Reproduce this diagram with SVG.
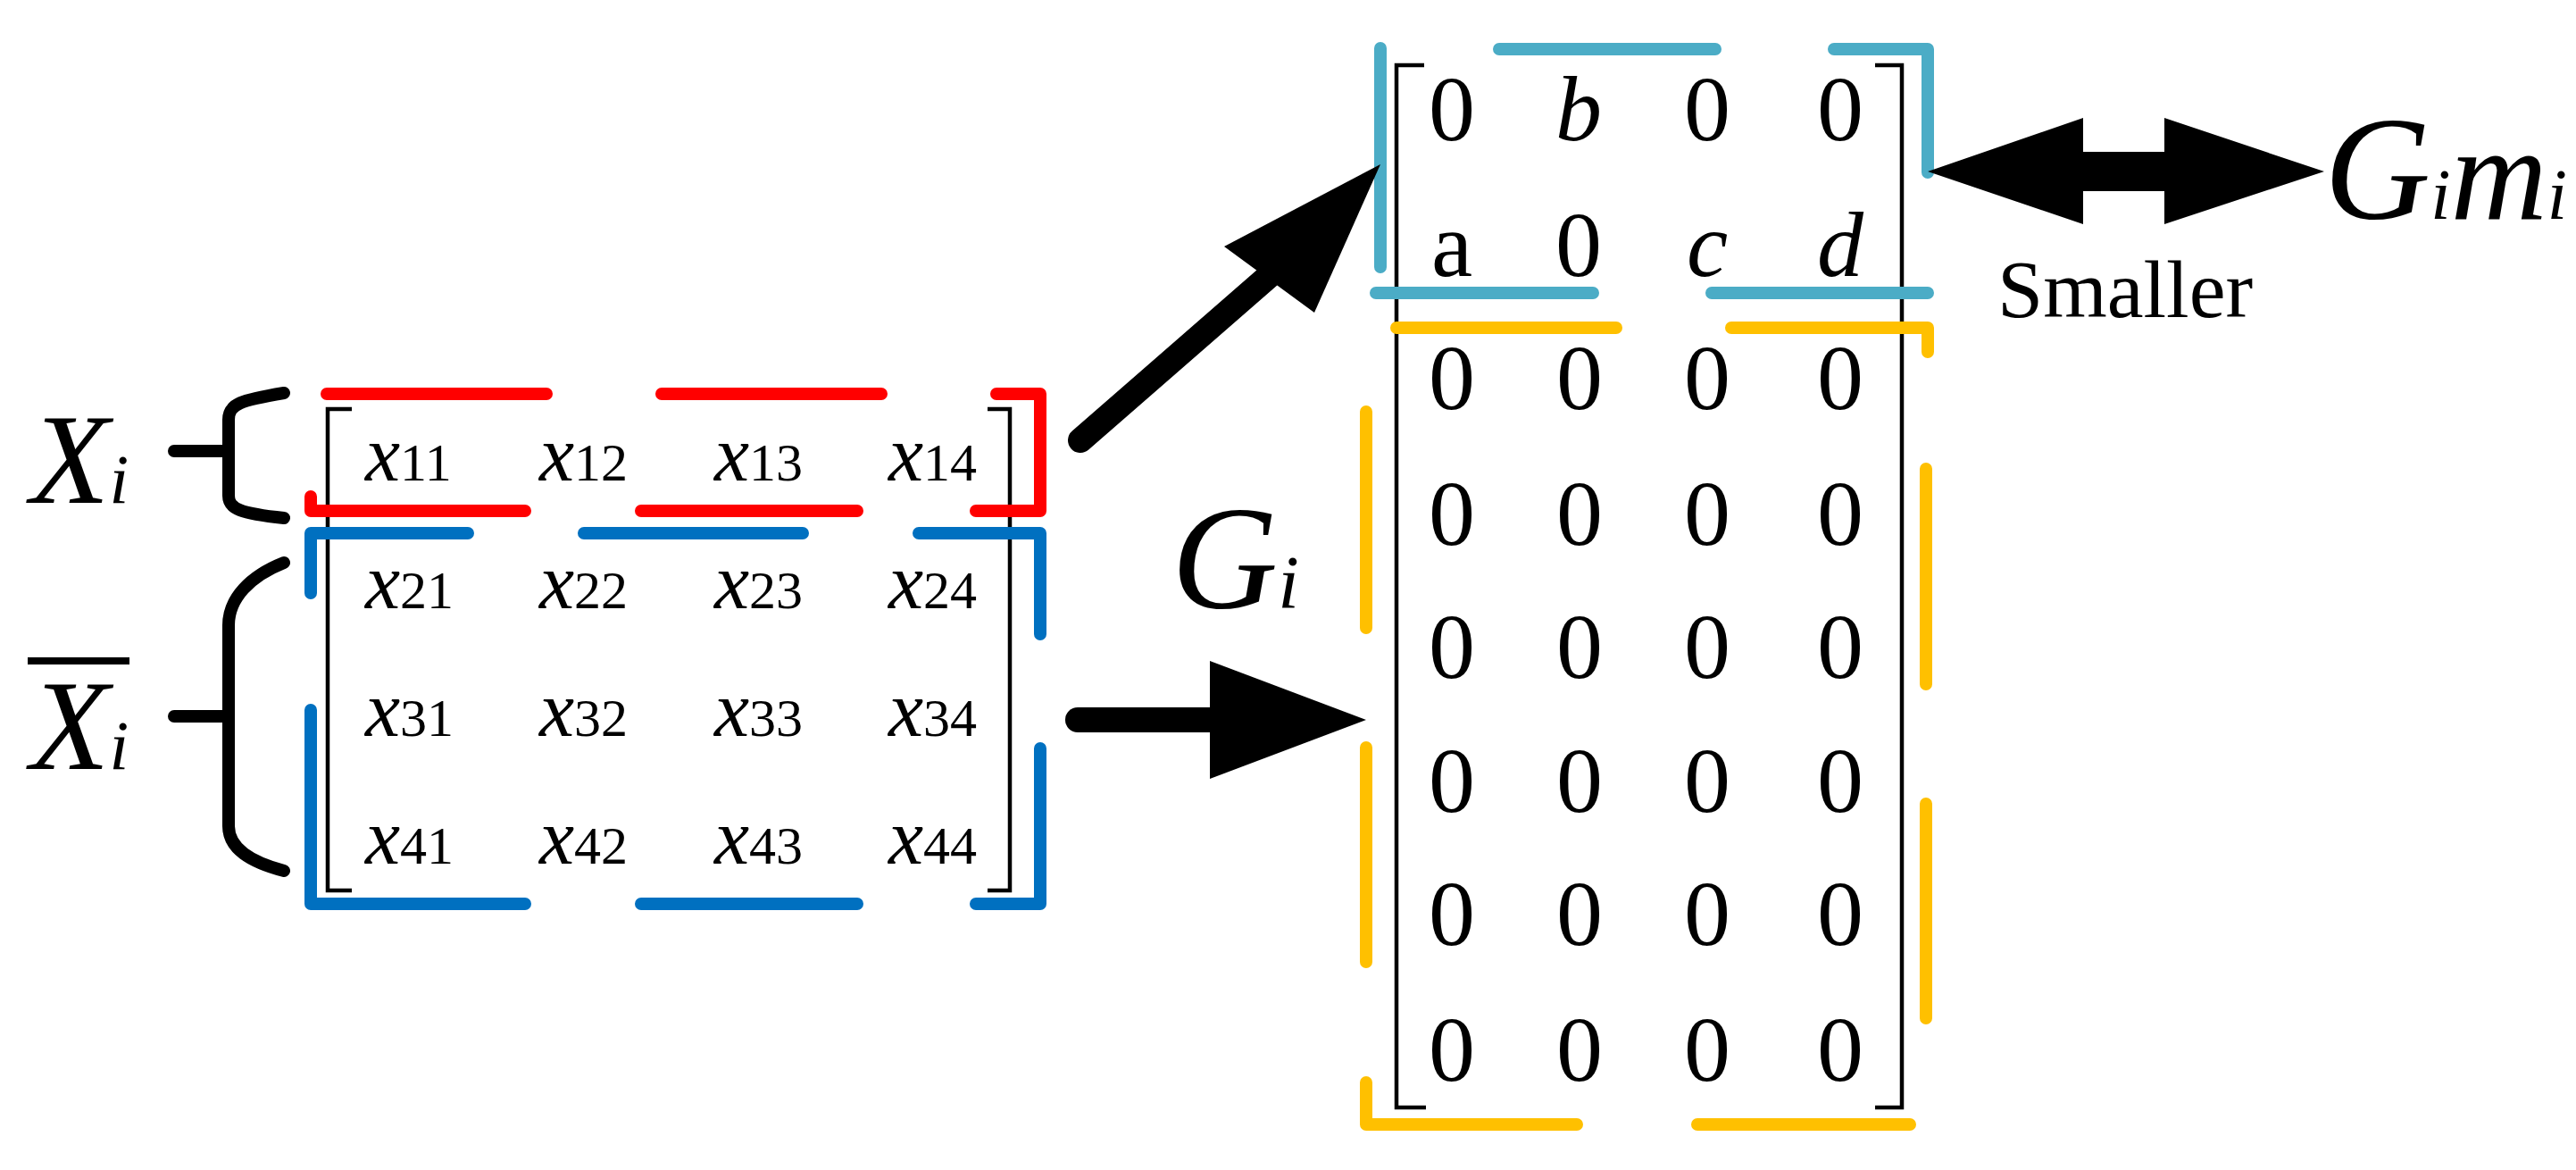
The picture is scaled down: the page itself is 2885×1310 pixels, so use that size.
<svg xmlns="http://www.w3.org/2000/svg" width="2885" height="1310" viewBox="0 0 2885 1310" font-family="'Liberation Serif', 'DejaVu Serif', serif">
<style>
.d{fill:none;stroke-width:14;stroke-linecap:round;stroke-linejoin:round}
.r{stroke:#FF0000}.b{stroke:#0070C0}.c{stroke:#4BACC6}.y{stroke:#FFC000}
.k{fill:none;stroke:#000;stroke-width:4.5}
.br{fill:none;stroke:#000;stroke-width:14;stroke-linecap:round}
text{font-family:'Liberation Serif','DejaVu Serif',serif;fill:#000}
.it{font-style:italic}
.x{font-size:88px;font-style:italic}
.s{font-size:60px;font-style:normal}
.z{font-size:104px;text-anchor:middle}
</style>
<g id="left-matrix">
<path class="k" d="M394,458 H367 V997 H394 M1106,458 H1131 V997 H1106"/>
<g>
<text x="409" y="538"><tspan class="x">x</tspan><tspan class="s">11</tspan></text>
<text x="604" y="538"><tspan class="x">x</tspan><tspan class="s">12</tspan></text>
<text x="800" y="538"><tspan class="x">x</tspan><tspan class="s">13</tspan></text>
<text x="995" y="538"><tspan class="x">x</tspan><tspan class="s">14</tspan></text>
<text x="409" y="681"><tspan class="x">x</tspan><tspan class="s">21</tspan></text>
<text x="604" y="681"><tspan class="x">x</tspan><tspan class="s">22</tspan></text>
<text x="800" y="681"><tspan class="x">x</tspan><tspan class="s">23</tspan></text>
<text x="995" y="681"><tspan class="x">x</tspan><tspan class="s">24</tspan></text>
<text x="409" y="824"><tspan class="x">x</tspan><tspan class="s">31</tspan></text>
<text x="604" y="824"><tspan class="x">x</tspan><tspan class="s">32</tspan></text>
<text x="800" y="824"><tspan class="x">x</tspan><tspan class="s">33</tspan></text>
<text x="995" y="824"><tspan class="x">x</tspan><tspan class="s">34</tspan></text>
<text x="409" y="967"><tspan class="x">x</tspan><tspan class="s">41</tspan></text>
<text x="604" y="967"><tspan class="x">x</tspan><tspan class="s">42</tspan></text>
<text x="800" y="967"><tspan class="x">x</tspan><tspan class="s">43</tspan></text>
<text x="995" y="967"><tspan class="x">x</tspan><tspan class="s">44</tspan></text>
</g>
</g>
<g id="red-box">
<path class="d r" d="M366,441 H612 M741,441 H987 M1116,441 H1165 V572 H1093 M718,572 H960 M348,556 V572 H588"/>
</g>
<g id="blue-box">
<path class="d b" d="M348,664 V597 H524 M654,597 H899 M1029,597 H1165 V710 M348,795 V1012 H588 M718,1012 H960 M1093,1012 H1165 V838"/>
</g>
<g id="Xi-label">
<text class="it" x="34" y="563" font-size="145">X<tspan font-size="78">i</tspan></text>
<path class="br" d="M318,440 C270,448 256,452 256,470 V555 C256,570 270,575 318,580 M195,505 H256"/>
</g>
<g id="Xbar-label">
<line x1="31" y1="740" x2="145" y2="740" stroke="#000" stroke-width="8"/>
<text class="it" x="34" y="861" font-size="145">X<tspan font-size="78">i</tspan></text>
<path class="br" d="M318,630 C280,645 256,670 256,700 V925 C256,950 280,965 318,975 M195,802 H256"/>
</g>
<g id="Gi-matrix">
<path class="k" d="M1595,73 H1564 V1240 H1597 M2100,73 H2130 V1240 H2100"/>
<text class="z" x="1626" y="157">0</text><text class="z it" x="1768" y="157">b</text><text class="z" x="1912" y="157">0</text><text class="z" x="2061" y="157">0</text>
<text class="z" x="1626" y="309">a</text><text class="z" x="1768" y="309">0</text><text class="z it" x="1912" y="309">c</text><text class="z it" x="2061" y="309">d</text>
<g id="zeros">
<text class="z" x="1626" y="458">0</text><text class="z" x="1769" y="458">0</text><text class="z" x="1912" y="458">0</text><text class="z" x="2061" y="458">0</text>
<text class="z" x="1626" y="610">0</text><text class="z" x="1769" y="610">0</text><text class="z" x="1912" y="610">0</text><text class="z" x="2061" y="610">0</text>
<text class="z" x="1626" y="759">0</text><text class="z" x="1769" y="759">0</text><text class="z" x="1912" y="759">0</text><text class="z" x="2061" y="759">0</text>
<text class="z" x="1626" y="909">0</text><text class="z" x="1769" y="909">0</text><text class="z" x="1912" y="909">0</text><text class="z" x="2061" y="909">0</text>
<text class="z" x="1626" y="1058">0</text><text class="z" x="1769" y="1058">0</text><text class="z" x="1912" y="1058">0</text><text class="z" x="2061" y="1058">0</text>
<text class="z" x="1626" y="1210">0</text><text class="z" x="1769" y="1210">0</text><text class="z" x="1912" y="1210">0</text><text class="z" x="2061" y="1210">0</text>
</g>
</g>
<g id="cyan-box">
<path class="d c" d="M1546,54 V299 M1679,55 H1921 M2054,55 H2159 V193 M1541,328 H1784 M1917,328 H2159"/>
</g>
<g id="yellow-box">
<path class="d y" d="M1564,367 H1810 M1939,367 H2159 V394 M1530,461 V703 M1530,837 V1077 M1530,1212 V1259 H1766 M1901,1259 H2139 M2157,525 V766 M2157,900 V1140"/>
</g>
<g id="Gi-label">
<text class="it" x="1312" y="681" font-size="165">G<tspan font-size="85">i</tspan></text>
</g>
<g id="Gimi-label">
<text class="it" x="2603" y="245" font-size="165">G<tspan font-size="80">i</tspan><tspan font-size="150">m</tspan><tspan font-size="80">i</tspan></text>
</g>
<g id="smaller-label">
<text x="2237" y="355" font-size="92">Smaller</text>
</g>
<g id="connectors">
<line x1="1210" y1="493" x2="1420" y2="310" stroke="#000" stroke-width="28" stroke-linecap="round"/>
<polygon points="1371,276 1546,184 1472,350"/>
<line x1="1207" y1="806" x2="1370" y2="806" stroke="#000" stroke-width="28" stroke-linecap="round"/>
<polygon points="1355,740 1530,806 1355,872"/>
<polygon points="2159,192 2333,132 2333,170 2424,170 2424,132 2603,192 2424,251 2424,214 2333,214 2333,251"/>
</g>
</svg>
